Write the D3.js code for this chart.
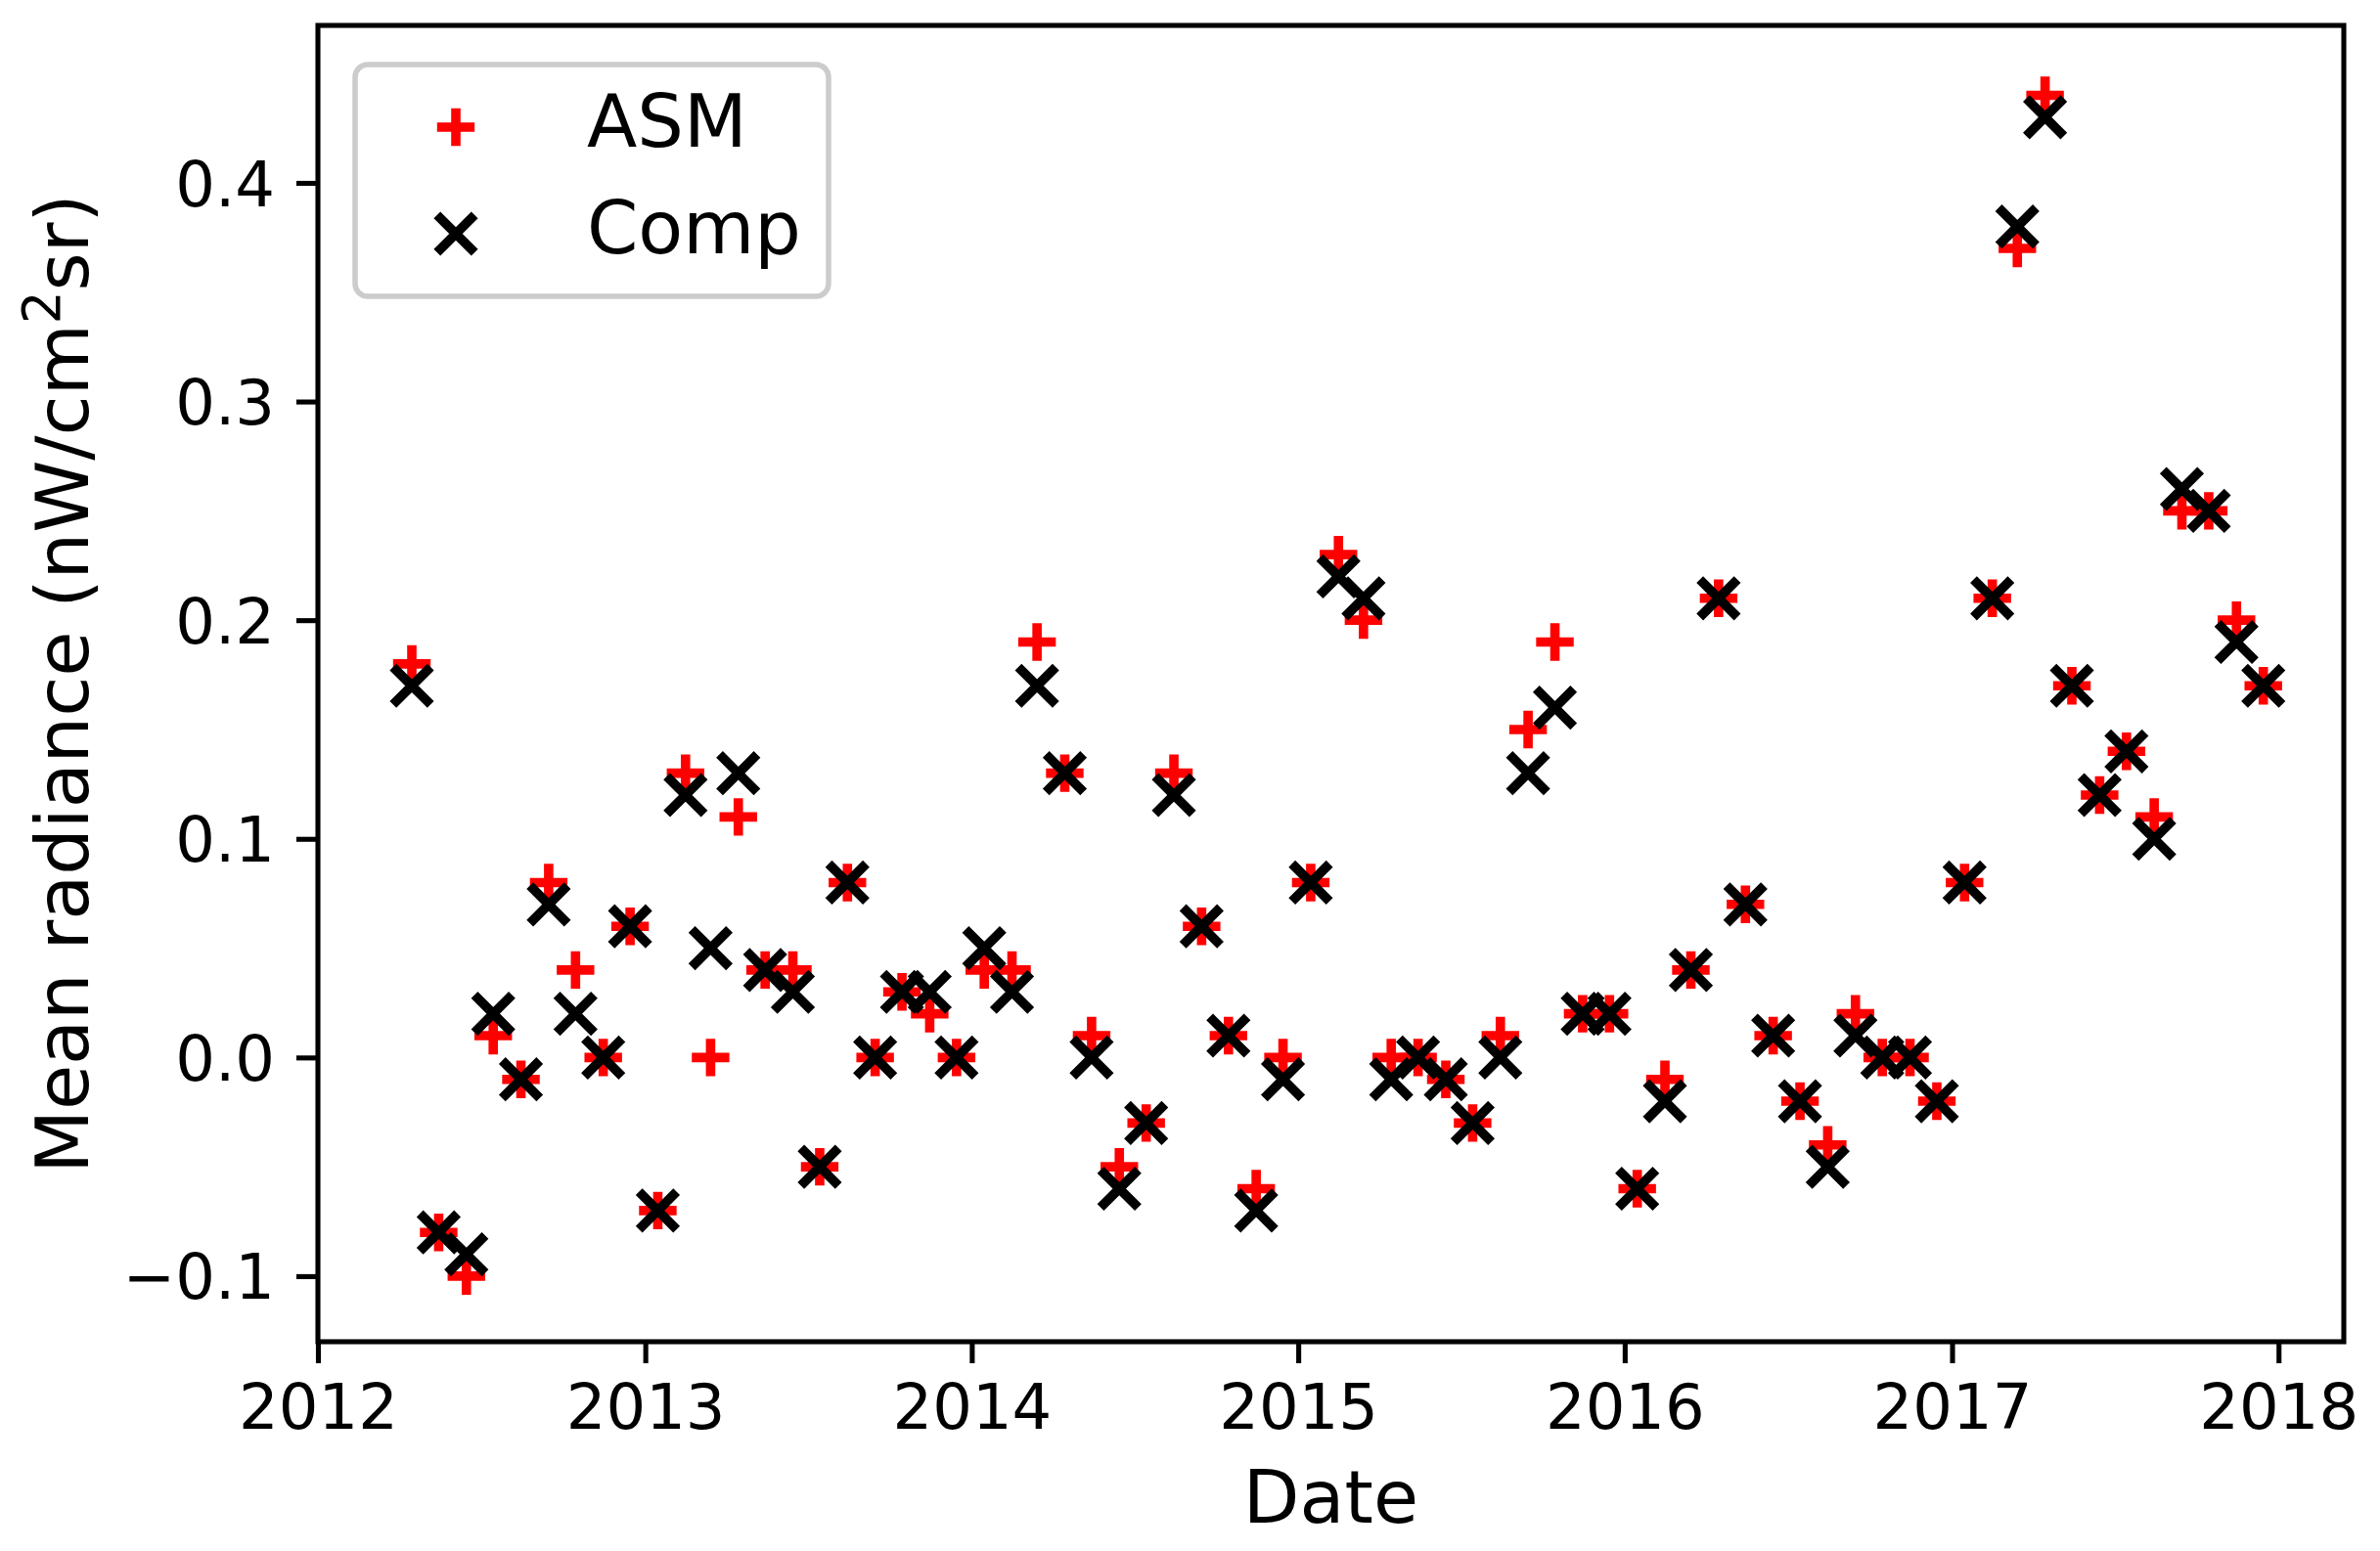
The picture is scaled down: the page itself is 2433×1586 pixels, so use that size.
<!DOCTYPE html>
<html lang="en">
<head>
<meta charset="utf-8">
<title>Mean radiance ASM vs Comp</title>
<script src="https://cdn.jsdelivr.net/npm/d3@7"></script>
<style>
  body { margin: 0; background: #fff; }
  svg { display: block; font-family: "DejaVu Sans", sans-serif; }
</style>
</head>
<body>
<svg id="chart" width="2433" height="1586"></svg>
<script>
// monthly observations, mid-month
var months = [
  "2012-04","2012-05","2012-06","2012-07","2012-08","2012-09","2012-10","2012-11","2012-12",
  "2013-01","2013-02","2013-03","2013-04","2013-05","2013-06","2013-07","2013-08","2013-09","2013-10","2013-11","2013-12",
  "2014-01","2014-02","2014-03","2014-04","2014-05","2014-06","2014-07","2014-08","2014-09","2014-10","2014-11","2014-12",
  "2015-01","2015-02","2015-03","2015-04","2015-05","2015-06","2015-07","2015-08","2015-09","2015-10","2015-11","2015-12",
  "2016-01","2016-02","2016-03","2016-04","2016-05","2016-06","2016-07","2016-08","2016-09","2016-10","2016-11","2016-12",
  "2017-01","2017-02","2017-03","2017-04","2017-05","2017-06","2017-07","2017-08","2017-09","2017-10","2017-11","2017-12"
];

var asm = [
  0.18, -0.08, -0.10, 0.01, -0.01, 0.08, 0.04, 0.00, 0.06,
  -0.07, 0.13, 0.00, 0.11, 0.04, 0.04, -0.05, 0.08, 0.00, 0.03, 0.02, 0.00,
  0.04, 0.04, 0.19, 0.13, 0.01, -0.05, -0.03, 0.13, 0.06, 0.01, -0.06, 0.00,
  0.08, 0.23, 0.20, 0.00, 0.00, -0.01, -0.03, 0.01, 0.15, 0.19, 0.02, 0.02,
  -0.06, -0.01, 0.04, 0.21, 0.07, 0.01, -0.02, -0.04, 0.02, 0.00, 0.00, -0.02,
  0.08, 0.21, 0.37, 0.44, 0.17, 0.12, 0.14, 0.11, 0.25, 0.25, 0.20, 0.17
];

var comp = [
  0.17, -0.08, -0.09, 0.02, -0.01, 0.07, 0.02, 0.00, 0.06,
  -0.07, 0.12, 0.05, 0.13, 0.04, 0.03, -0.05, 0.08, 0.00, 0.03, 0.03, 0.00,
  0.05, 0.03, 0.17, 0.13, 0.00, -0.06, -0.03, 0.12, 0.06, 0.01, -0.07, -0.01,
  0.08, 0.22, 0.21, -0.01, 0.00, -0.01, -0.03, 0.00, 0.13, 0.16, 0.02, 0.02,
  -0.06, -0.02, 0.04, 0.21, 0.07, 0.01, -0.02, -0.05, 0.01, 0.00, 0.00, -0.02,
  0.08, 0.21, 0.38, 0.43, 0.17, 0.12, 0.14, 0.10, 0.26, 0.25, 0.19, 0.17
];

var yTicks = [-0.1, 0.0, 0.1, 0.2, 0.3, 0.4];
var xTicks = ["2012", "2013", "2014", "2015", "2016", "2017", "2018"];
var seriesNames = ["ASM", "Comp"];

var parseMonth = d3.timeParse("%Y-%m-%d");
var dates = months.map(function(m) { return parseMonth(m + "-15"); });

var svg = d3.select("#chart");
// axes box (window.top is reserved, so use a prefix)
var axL = 325, axR = 2396, axT = 26, axB = 1372;

var x = d3.scaleTime()
    .domain([new Date(2012, 0, 1), new Date(2018, 2, 15)])
    .range([axL, axR]);
var y = d3.scaleLinear()
    .domain([-0.130, 0.472])
    .range([axB, axT]);

svg.append("rect").attr("width", 2433).attr("height", 1586).attr("fill", "#fff");

var tickLen = 22, lw = 5.1;
var labelSize = 75;

// y axis
var yAxis = d3.axisLeft(y)
    .tickValues(yTicks)
    .tickSize(tickLen)
    .tickPadding(22)
    .tickFormat(function(d) { return d3.format(".1f")(d).replace("-", "\u2212"); });
var gy = svg.append("g").attr("transform", "translate(" + axL + ",0)").call(yAxis);
gy.select(".domain").remove();
gy.selectAll(".tick line").attr("stroke", "#000").attr("stroke-width", lw);
gy.selectAll(".tick text")
    .attr("font-size", 64).attr("fill", "#000")
    .attr("font-family", "DejaVu Sans").attr("dy", "0.36em");

// x axis
var xAxis = d3.axisBottom(x)
    .tickValues(xTicks.map(function(t) { return new Date(+t, 0, 1); }))
    .tickSize(tickLen)
    .tickPadding(22)
    .tickFormat(d3.timeFormat("%Y"));
var gx = svg.append("g").attr("transform", "translate(0," + axB + ")").call(xAxis);
gx.select(".domain").remove();
gx.selectAll(".tick line").attr("stroke", "#000").attr("stroke-width", lw);
gx.selectAll(".tick text")
    .attr("font-size", 64).attr("fill", "#000")
    .attr("font-family", "DejaVu Sans").attr("dy", "0.71em");

// markers
var half = 19.2;
var plusPath = "M" + (-half) + ",0H" + half + "M0," + (-half) + "V" + half;
var xPath = "M" + (-half) + "," + (-half) + "L" + half + "," + half +
            "M" + (-half) + "," + half + "L" + half + "," + (-half);

var plot = svg.append("g");
plot.selectAll("path.asm")
    .data(asm)
    .enter().append("path")
    .attr("class", "asm")
    .attr("d", plusPath)
    .attr("transform", function(d, i) { return "translate(" + x(dates[i]) + "," + y(d) + ")"; })
    .attr("stroke", "#ff0000").attr("stroke-width", 9.6).attr("fill", "none");

plot.selectAll("path.comp")
    .data(comp)
    .enter().append("path")
    .attr("class", "comp")
    .attr("d", xPath)
    .attr("transform", function(d, i) { return "translate(" + x(dates[i]) + "," + y(d) + ")"; })
    .attr("stroke", "#000").attr("stroke-width", 9.6).attr("fill", "none");

// frame
svg.append("rect")
    .attr("x", axL).attr("y", axT)
    .attr("width", axR - axL).attr("height", axB - axT)
    .attr("fill", "none").attr("stroke", "#000").attr("stroke-width", lw);

// legend
var leg = svg.append("g");
leg.append("rect")
    .attr("x", 363).attr("y", 66).attr("width", 484).attr("height", 237)
    .attr("rx", 13).attr("ry", 13)
    .attr("fill", "#fff").attr("fill-opacity", 0.8)
    .attr("stroke", "#cccccc").attr("stroke-width", 5.5);
var legY = [130, 239];
leg.append("path").attr("d", plusPath).attr("transform", "translate(466," + legY[0] + ")")
    .attr("stroke", "#ff0000").attr("stroke-width", 9.6).attr("fill", "none");
leg.append("path").attr("d", xPath).attr("transform", "translate(466," + legY[1] + ")")
    .attr("stroke", "#000").attr("stroke-width", 9.6).attr("fill", "none");
seriesNames.forEach(function(name, i) {
  leg.append("text")
      .attr("x", 600).attr("y", legY[i] + 20)
      .attr("font-size", labelSize).attr("fill", "#000")
      .text(name);
});

// axis labels
svg.append("text")
    .attr("x", (axL + axR) / 2).attr("y", 1557)
    .attr("text-anchor", "middle").attr("font-size", labelSize)
    .text("Date");

var yl = svg.append("text")
    .attr("transform", "translate(90," + (axT + axB) / 2 + ") rotate(-90)")
    .attr("text-anchor", "middle").attr("font-size", labelSize);
yl.append("tspan").text("Mean radiance (nW/cm");
yl.append("tspan").attr("font-size", 53).attr("dy", -29).text("2");
yl.append("tspan").attr("dy", 29).text("sr)");
</script>
</body>
</html>
